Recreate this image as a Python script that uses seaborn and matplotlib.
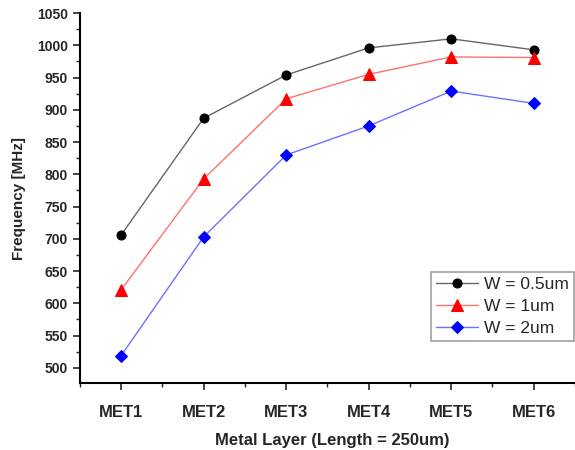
import matplotlib
matplotlib.use("Agg")
import matplotlib.pyplot as plt
from matplotlib.ticker import MultipleLocator
import seaborn as sns
import pandas as pd

layers = ["MET1", "MET2", "MET3", "MET4", "MET5", "MET6"]
w05 = [706, 887, 954, 996, 1010, 993]
w1 = [621, 793, 917, 955, 982, 981]
w2 = [519, 703, 830, 875, 929, 910]
labels = ["W = 0.5um", "W = 1um", "W = 2um"]

sns.set_style("ticks")
plt.rcParams["font.family"] = ["Liberation Sans", "DejaVu Sans"]

fig = plt.figure(figsize=(5.75, 4.5), dpi=100)
ax = fig.add_axes([0.139, 0.149, 0.861, 0.822])

styles = [
    dict(line="#666666", face="black", marker="o", ms=6.5),
    dict(line="#ff7070", face="#ff0000", marker="^", ms=8.5),
    dict(line="#7070ff", face="#0000ff", marker="D", ms=6),
]
for vals, lab, st in zip([w05, w1, w2], labels, styles):
    df = pd.DataFrame({"layer": layers, "freq": vals})
    sns.lineplot(data=df, x="layer", y="freq", ax=ax, color=st["line"],
                 linewidth=1.0, marker=st["marker"], markersize=st["ms"],
                 markerfacecolor=st["face"], markeredgecolor=st["face"],
                 label=lab)

ax.set_xlim(-0.5, 5.5)
ax.set_ylim(476.5, 1050)
ax.yaxis.set_major_locator(MultipleLocator(50))
ax.yaxis.set_minor_locator(MultipleLocator(25))
ax.xaxis.set_minor_locator(MultipleLocator(0.5))
ax.tick_params(which="major", direction="out", length=5, width=1.2)
ax.tick_params(which="minor", direction="out", length=3, width=1.0)
ax.tick_params(axis="y", labelsize=10)
ax.tick_params(axis="x", labelsize=12, pad=11)
for lbl in ax.get_xticklabels() + ax.get_yticklabels():
    lbl.set_fontweight("bold")
sns.despine(ax=ax)
for s in ["left", "bottom"]:
    ax.spines[s].set_linewidth(1.5)
    ax.spines[s].set_color("black")

ax.set_xlabel("Metal Layer (Length = 250um)", fontsize=12, fontweight="bold")
ax.xaxis.set_label_coords(0.51, -0.135)
ax.set_ylabel("Frequency [MHz]", fontsize=11, fontweight="bold", labelpad=8)

leg = ax.legend(loc="upper right", bbox_to_anchor=(0.998, 0.30), fontsize=12.5,
                frameon=True, fancybox=False, edgecolor="#888888",
                borderpad=0.3, labelspacing=0.38, handlelength=2.4,
                handletextpad=0.35, borderaxespad=0.0)
leg.get_frame().set_linewidth(1.2)

fig.savefig("out.png", dpi=100)
